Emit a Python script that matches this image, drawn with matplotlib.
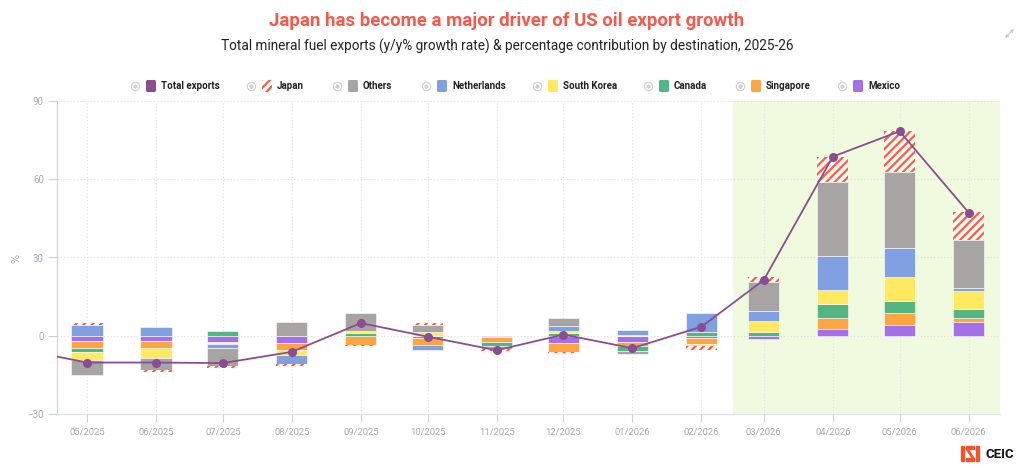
import datetime as dt
import matplotlib.pyplot as plt
import matplotlib.dates as mdates
from matplotlib.patches import Rectangle, FancyBboxPatch, FancyArrowPatch
from matplotlib.lines import Line2D

# Data (% points contribution to y/y growth)
months = ["05/2025", "06/2025", "07/2025", "08/2025", "09/2025", "10/2025", "11/2025",
          "12/2025", "01/2026", "02/2026", "03/2026", "04/2026", "05/2026", "06/2026"]
japan = [1.0, -0.9, -0.5, -0.9, -0.6, 1.0, -0.7, -0.4, 0.0, -1.5, 1.8, 9.7, 15.7, 10.5]
others = [-5.7, -4.6, -7.0, 5.2, 6.9, 2.4, -1.0, 3.1, -1.3, 0.0, 11.2, 28.3, 29.0, 18.3]
netherlands = [4.1, 3.3, -1.6, -3.2, 0.0, -2.2, 0.0, 1.8, 1.9, 7.4, 3.8, 13.0, 11.0, 1.5]
south_korea = [-2.9, -3.7, -0.4, -2.0, 1.0, 1.6, 0.0, 1.0, 0.3, -0.8, 4.1, 5.5, 9.4, 6.8]
canada = [-1.5, -0.3, 1.8, 0.0, 1.0, 0.0, -1.8, 1.0, -1.8, 1.5, 1.5, 5.1, 4.6, 3.2]
singapore = [-2.9, -2.7, -0.3, -2.6, -3.4, -2.4, -1.7, -3.2, -1.3, -2.2, 0.0, 4.3, 4.6, 1.5]
mexico = [-1.8, -1.8, -2.4, -2.8, 0.0, -0.9, -0.5, -2.8, -2.5, -0.9, -1.0, 2.7, 4.0, 5.5]
total = [-10.2, -10.2, -10.4, -6.1, 4.9, -0.3, -5.5, 0.5, -4.7, 3.5, 21.4, 68.6, 78.3, 47.2]
# 04/2025 total sits just left of the visible axis
total_prev = -5.1

# stacking order from zero outwards
series = [
    ("Mexico", mexico, "#a46fe8"),
    ("Singapore", singapore, "#fda543"),
    ("Canada", canada, "#52b582"),
    ("South Korea", south_korea, "#ffe960"),
    ("Netherlands", netherlands, "#80a0e2"),
    ("Others", others, "#a6a5a3"),
    ("Japan", japan, "#f95d4c"),
]
line_color = "#8a4d93"

x = [mdates.date2num(dt.date(int(m[3:]), int(m[:2]), 1)) for m in months]
x_prev = mdates.date2num(dt.date(2025, 4, 1))

plt.rcParams["hatch.linewidth"] = 1.6
narrow = ["Liberation Sans Narrow", "Roboto", "DejaVu Sans"]

fig = plt.figure(figsize=(10.24, 4.69), dpi=100)
W, H = 1024, 469
ax = fig.add_axes([57 / W, 1 - 414.3 / H, (1000 - 57) / W, (414.3 - 100.7) / H])

x0 = x[0] - 13.5
x1 = x[-1] + 14.1
ax.axvspan(mdates.date2num(dt.date(2026, 2, 15)), x1, color="#effadf", zorder=0, lw=0)

pos = [0.0] * len(months)
neg = [0.0] * len(months)
for name, vals, color in series:
    for i, v in enumerate(vals):
        if v == 0:
            continue
        base = pos[i] if v > 0 else neg[i]
        if name == "Japan":
            ax.bar(x[i], v, width=14, bottom=base, color="#fffaf0", edgecolor=color,
                   hatch="////", linewidth=0, zorder=2)
        else:
            ax.bar(x[i], v, width=14, bottom=base, color=color, edgecolor="white",
                   linewidth=0.4, zorder=2)
        if v > 0:
            pos[i] += v
        else:
            neg[i] += v

ax.plot([x_prev] + x, [total_prev] + total, color=line_color, lw=1.3, marker="o",
        ms=5.5, zorder=4)

ax.set_xlim(x0, x1)
ax.set_ylim(-30, 90)
ax.set_yticks([-30, 0, 30, 60, 90])
ax.set_xticks(x)
ax.set_xticklabels(months)
for s in ["top", "right"]:
    ax.spines[s].set_visible(False)
ax.spines["left"].set_color("#ccd0dc")
ax.spines["bottom"].set_color("#dcdfe8")
ax.tick_params(axis="y", length=6.5, color="#ccd0dc", labelcolor="#a8a8b8",
               labelsize=7, pad=3)
ax.tick_params(axis="x", length=6, color="#ccd0dc", labelcolor="#a8a8b8",
               labelsize=6.8, pad=4)
for lab in ax.get_xticklabels() + ax.get_yticklabels():
    lab.set_family("Roboto")
for yv in [0, 30, 60, 90]:
    ax.axhline(yv, color="#dddddd", lw=0.8, ls=(0, (1, 2)), zorder=1)
for xv in x:
    ax.axvline(xv, color="#e2e2e2", lw=0.8, ls=(0, (1, 2)), zorder=1)

fig.text(17 / W, 1 - 258 / H, "%", rotation=90, color="#a8a8b8", fontsize=7,
         ha="center", va="center")

# titles
fig.text(507 / W, 1 - 21 / H, "Japan has become a major driver of US oil export growth",
         color="#f5594b", fontsize=13.4, fontweight="bold", family=narrow,
         ha="center", va="center")
fig.text(507 / W, 1 - 46 / H,
         "Total mineral fuel exports (y/y% growth rate) & percentage contribution by destination, 2025-26",
         color="#222222", fontsize=9.8, family=narrow, ha="center", va="center")

# legend drawn by hand (pixel positions)
def inch(px, py):
    return px / 100, (H - py) / 100

legend = [
    ("Total exports", line_color, 135),
    ("Japan", "#f95d4c", 251),
    ("Others", "#a6a5a3", 337),
    ("Netherlands", "#80a0e2", 426),
    ("South Korea", "#ffe960", 537),
    ("Canada", "#52b582", 648),
    ("Singapore", "#fda543", 740),
    ("Mexico", "#a46fe8", 842),
]
ly = 86
for label, color, ex in legend:
    fig.add_artist(Line2D([inch(ex, ly)[0]], [inch(ex, ly)[1]], marker="o", ms=6,
                          mfc="none", mec="#d0d0d0", mew=0.8,
                          transform=fig.dpi_scale_trans))
    fig.add_artist(Line2D([inch(ex, ly)[0]], [inch(ex, ly)[1]], marker="o", ms=2,
                          color="#d0d0d0", transform=fig.dpi_scale_trans))
    sx, sy = inch(ex + 11, ly + 6)
    if label == "Japan":
        box = FancyBboxPatch((sx, sy), 0.10, 0.12, boxstyle="round,pad=0,rounding_size=0.015",
                             facecolor="white", edgecolor=color, hatch="////", lw=0,
                             transform=fig.dpi_scale_trans)
    else:
        box = FancyBboxPatch((sx, sy), 0.10, 0.12, boxstyle="round,pad=0,rounding_size=0.015",
                             facecolor=color, edgecolor="none",
                             transform=fig.dpi_scale_trans)
    fig.add_artist(box)
    tx, ty = inch(ex + 26, ly)
    fig.text(tx, ty, label, transform=fig.dpi_scale_trans, fontsize=7.0,
             fontweight="bold", family=narrow, color="#222222", va="center", ha="left")

# expand icon top right
a, b = inch(1003, 40), inch(1016, 27)
fig.add_artist(FancyArrowPatch(a, b, arrowstyle="<->", mutation_scale=5, lw=0.8,
                               color="#c8c8d2", transform=fig.dpi_scale_trans))

# CEIC logo
logo = "#f0542b"
for (px0, py0, pw, ph) in [(961, 446, 3, 15), (976, 446, 3, 15), (966, 446, 8, 3), (966, 458, 8, 3)]:
    lx, ly0 = inch(px0, py0 + ph)
    fig.add_artist(Rectangle((lx, ly0), pw / 100, ph / 100, color=logo,
                             transform=fig.dpi_scale_trans))
fig.add_artist(Line2D([inch(967, 449)[0], inch(973, 458)[0]],
                      [inch(967, 449)[1], inch(973, 458)[1]], color=logo, lw=2,
                      transform=fig.dpi_scale_trans))
cx, cy = inch(985, 454)
fig.text(cx, cy, "CEIC", transform=fig.dpi_scale_trans, fontsize=9.5, fontweight="bold",
         family="Roboto", color="#111111", va="center", ha="left")

fig.savefig("out.png", dpi=100)
